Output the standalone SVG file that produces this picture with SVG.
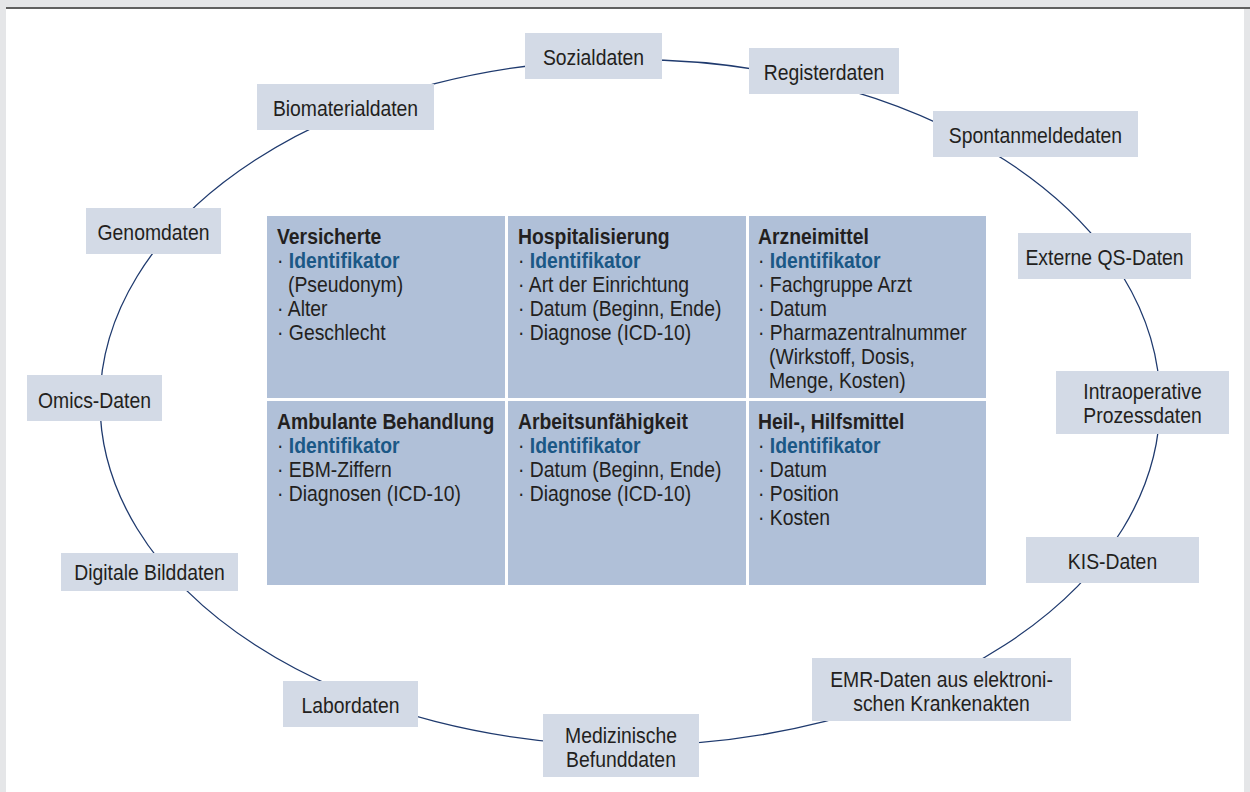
<svg xmlns="http://www.w3.org/2000/svg" width="1250" height="792" viewBox="0 0 1250 792">
<style>
  .t { font-family: "Liberation Sans", Arial, sans-serif; font-size: 22px; fill: #231f20; }
  .lbl { text-anchor: middle; }
  .b { font-weight: bold; }
  .id { font-weight: bold; fill: #1b5886; }
  .box { fill: #d3dae6; }
  .cell { fill: #b0c0d8; }
  .ring { fill: none; stroke: #1f3a6e; stroke-width: 1.3; }
</style>
<rect x="0" y="0" width="1250" height="792" fill="#e5e6e8"/>
<rect x="6" y="9" width="1238" height="783" fill="#ffffff"/>
<line x1="6" y1="8" x2="1250" y2="8" stroke="#333333" stroke-width="1.5"/>

<g id="connectors">
  <ellipse class="ring" cx="630" cy="402.5" rx="530" ry="343"/>
</g>

<g id="grid">
  <g id="cell-versicherte">
    <rect class="cell" x="267" y="216" width="238" height="182"/>
    <text class="t" transform="translate(277 244) scale(0.88 1)"><tspan class="b" x="0">Versicherte</tspan><tspan x="0" dy="24">· <tspan class="id">Identifikator</tspan></tspan><tspan x="12.5" dy="24">(Pseudonym)</tspan><tspan x="0" dy="24">· Alter</tspan><tspan x="0" dy="24">· Geschlecht</tspan></text>
  </g>
  <g id="cell-hospitalisierung">
    <rect class="cell" x="508" y="216" width="238" height="182"/>
    <text class="t" transform="translate(518 244) scale(0.88 1)"><tspan class="b" x="0">Hospitalisierung</tspan><tspan x="0" dy="24">· <tspan class="id">Identifikator</tspan></tspan><tspan x="0" dy="24">· Art der Einrichtung</tspan><tspan x="0" dy="24">· Datum (Beginn, Ende)</tspan><tspan x="0" dy="24">· Diagnose (ICD-10)</tspan></text>
  </g>
  <g id="cell-arzneimittel">
    <rect class="cell" x="749" y="216" width="237" height="182"/>
    <text class="t" transform="translate(758 244) scale(0.88 1)"><tspan class="b" x="0">Arzneimittel</tspan><tspan x="0" dy="24">· <tspan class="id">Identifikator</tspan></tspan><tspan x="0" dy="24">· Fachgruppe Arzt</tspan><tspan x="0" dy="24">· Datum</tspan><tspan x="0" dy="24">· Pharmazentralnummer</tspan><tspan x="12.5" dy="24">(Wirkstoff, Dosis,</tspan><tspan x="12.5" dy="24">Menge, Kosten)</tspan></text>
  </g>
  <g id="cell-ambulant">
    <rect class="cell" x="267" y="401" width="238" height="184"/>
    <text class="t" transform="translate(277 429) scale(0.88 1)"><tspan class="b" x="0">Ambulante Behandlung</tspan><tspan x="0" dy="24">· <tspan class="id">Identifikator</tspan></tspan><tspan x="0" dy="24">· EBM-Ziffern</tspan><tspan x="0" dy="24">· Diagnosen (ICD-10)</tspan></text>
  </g>
  <g id="cell-au">
    <rect class="cell" x="508" y="401" width="238" height="184"/>
    <text class="t" transform="translate(518 429) scale(0.88 1)"><tspan class="b" x="0">Arbeitsunfähigkeit</tspan><tspan x="0" dy="24">· <tspan class="id">Identifikator</tspan></tspan><tspan x="0" dy="24">· Datum (Beginn, Ende)</tspan><tspan x="0" dy="24">· Diagnose (ICD-10)</tspan></text>
  </g>
  <g id="cell-heilmittel">
    <rect class="cell" x="749" y="401" width="237" height="184"/>
    <text class="t" transform="translate(758 429) scale(0.88 1)"><tspan class="b" x="0">Heil-, Hilfsmittel</tspan><tspan x="0" dy="24">· <tspan class="id">Identifikator</tspan></tspan><tspan x="0" dy="24">· Datum</tspan><tspan x="0" dy="24">· Position</tspan><tspan x="0" dy="24">· Kosten</tspan></text>
  </g>
</g>

<g id="n-biomaterial"><rect class="box" x="257" y="84" width="177" height="46"/><text class="t lbl" transform="translate(345.5 116) scale(0.88 1)">Biomaterialdaten</text></g>
<g id="n-genom"><rect class="box" x="86" y="208" width="135" height="46"/><text class="t lbl" transform="translate(153.5 240) scale(0.88 1)">Genomdaten</text></g>
<g id="n-sozial"><rect class="box" x="525" y="33" width="137" height="46"/><text class="t lbl" transform="translate(593.5 65) scale(0.88 1)">Sozialdaten</text></g>
<g id="n-register"><rect class="box" x="749" y="48" width="150" height="46"/><text class="t lbl" transform="translate(824 80) scale(0.88 1)">Registerdaten</text></g>
<g id="n-spontan"><rect class="box" x="933" y="111" width="205" height="46"/><text class="t lbl" transform="translate(1035.5 143) scale(0.88 1)">Spontanmeldedaten</text></g>
<g id="n-externe"><rect class="box" x="1018" y="233" width="173" height="46"/><text class="t lbl" transform="translate(1104.5 265) scale(0.88 1)">Externe QS-Daten</text></g>
<g id="n-intraop"><rect class="box" x="1056" y="371" width="173" height="63"/><text class="t lbl" transform="translate(1142.5 399) scale(0.88 1)"><tspan x="0">Intraoperative</tspan><tspan x="0" dy="24">Prozessdaten</tspan></text></g>
<g id="n-kis"><rect class="box" x="1026" y="537" width="173" height="46"/><text class="t lbl" transform="translate(1112.5 569) scale(0.88 1)">KIS-Daten</text></g>
<g id="n-emr"><rect class="box" x="812" y="658" width="259" height="63"/><text class="t lbl" transform="translate(941.5 687) scale(0.88 1)"><tspan x="0">EMR-Daten aus elektroni-</tspan><tspan x="0" dy="24">schen Krankenakten</tspan></text></g>
<g id="n-befund"><rect class="box" x="543" y="714" width="156" height="63"/><text class="t lbl" transform="translate(621 743) scale(0.88 1)"><tspan x="0">Medizinische</tspan><tspan x="0" dy="24">Befunddaten</tspan></text></g>
<g id="n-labor"><rect class="box" x="283" y="681" width="135" height="46"/><text class="t lbl" transform="translate(350.5 713) scale(0.88 1)">Labordaten</text></g>
<g id="n-bild"><rect class="box" x="61" y="553" width="177" height="38"/><text class="t lbl" transform="translate(149.5 580) scale(0.88 1)">Digitale Bilddaten</text></g>
<g id="n-omics"><rect class="box" x="27" y="375" width="135" height="46"/><text class="t lbl" transform="translate(94.5 408) scale(0.88 1)">Omics-Daten</text></g>
</svg>
